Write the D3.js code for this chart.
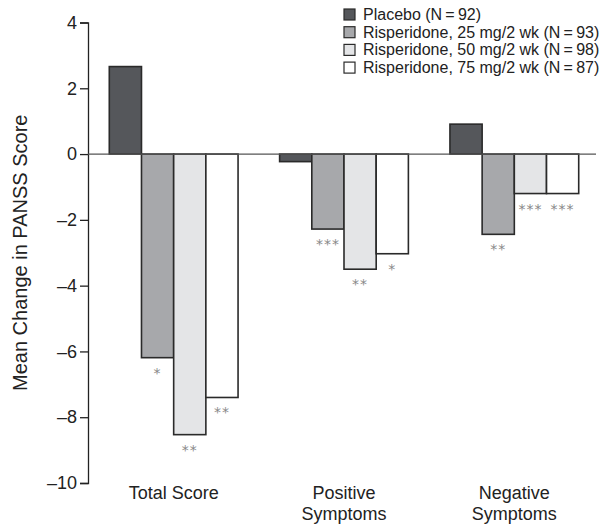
<!DOCTYPE html>
<html>
<head>
<meta charset="utf-8">
<script src="https://cdn.jsdelivr.net/npm/d3@7"></script>
<style>
  body { margin: 0; background: #fff; }
  text { font-family: "Liberation Sans", Arial, sans-serif; fill: #222; }
</style>
</head>
<body>
<script>
// data
const categories = ["Total Score", "Positive\nSymptoms", "Negative\nSymptoms"];
const seriesNames = [
  "Placebo (N\u2009=\u200992)",
  "Risperidone, 25 mg/2 wk (N\u2009=\u200993)",
  "Risperidone, 50 mg/2 wk (N\u2009=\u200998)",
  "Risperidone, 75 mg/2 wk (N\u2009=\u200987)"
];
const placebo = [2.66, -0.23, 0.91];
const risp25 = [-6.19, -2.28, -2.44];
const risp50 = [-8.53, -3.50, -1.20];
const risp75 = [-7.40, -3.03, -1.20];
const stars25 = ["*", "***", "**"];
const stars50 = ["**", "**", "***"];
const stars75 = ["**", "*", "***"];
const yTicks = [4, 2, 0, -2, -4, -6, -8, -10];

const colors = ["#55575b", "#a7a8ab", "#e4e5e7", "#ffffff"];
const values = [placebo, risp25, risp50, risp75];
const stars = [null, stars25, stars50, stars75];

const m = { width: 600, height: 525 };

let svg = d3.select("body")
  .append("svg")
  .attr("width", m.width)
  .attr("height", m.height);

let y = d3.scaleLinear()
  .domain([-10, 4])
  .range([483, 22.5]);

let x = d3.scaleBand()
  .domain(categories)
  .range([88, 600])
  .paddingInner(0.244)
  .paddingOuter(0.125);

let xs = d3.scaleBand()
  .domain(d3.range(4))
  .range([0, x.bandwidth()]);

// y axis
let yAxis = svg.append("g")
  .attr("transform", "translate(88,0)")
  .call(d3.axisLeft(y).tickValues(yTicks).tickSize(8).tickPadding(3)
    .tickFormat(d => d < 0 ? "\u2013" + Math.abs(d) : d));
yAxis.select(".domain").attr("stroke", "#222").attr("stroke-width", 1.3);
yAxis.selectAll(".tick line").attr("stroke", "#222").attr("stroke-width", 1.3);
yAxis.selectAll(".tick text")
  .style("font-family", "Liberation Sans, Arial, sans-serif")
  .style("font-size", "18px")
  .attr("fill", "#222");

svg.append("text")
  .attr("transform", "translate(27," + y(-3) + ") rotate(-90)")
  .attr("text-anchor", "middle")
  .style("font-size", "20px")
  .text("Mean Change in PANSS Score");

// bars
let bars = svg.append("g");
values.forEach((vals, s) => {
  bars.selectAll(".s" + s)
    .data(vals)
    .enter()
    .append("rect")
    .attr("x", (d, i) => x(categories[i]) + xs(s))
    .attr("width", xs.bandwidth())
    .attr("y", d => y(Math.max(0, d)))
    .attr("height", d => Math.abs(y(d) - y(0)))
    .attr("fill", colors[s])
    .attr("stroke", "#2a2a2a")
    .attr("stroke-width", 1.6);
});

// zero line
svg.append("line")
  .attr("x1", 88).attr("x2", 596)
  .attr("y1", y(0)).attr("y2", y(0))
  .attr("stroke", "#555")
  .attr("stroke-width", 1.2);

// significance stars
values.forEach((vals, s) => {
  if (!stars[s]) return;
  svg.append("g").selectAll("text")
    .data(vals)
    .enter()
    .append("text")
    .attr("x", (d, i) => x(categories[i]) + xs(s) + xs.bandwidth() / 2)
    .attr("y", d => y(d) + 20)
    .attr("text-anchor", "middle")
    .style("font-family", "DejaVu Sans, sans-serif")
    .style("font-size", "14px")
    .style("letter-spacing", "1px")
    .style("fill", "#888")
    .text((d, i) => stars[s][i]);
});

// category labels
categories.forEach(c => {
  let t = svg.append("text")
    .attr("text-anchor", "middle")
    .style("font-size", "18px");
  c.split("\n").forEach((line, k) => {
    t.append("tspan")
      .attr("x", x(c) + x.bandwidth() / 2)
      .attr("y", 499 + k * 21)
      .text(line);
  });
});

// legend
let legend = svg.append("g").attr("transform", "translate(344,9)");
seriesNames.forEach((name, s) => {
  let row = legend.append("g").attr("transform", "translate(0," + s * 17.7 + ")");
  row.append("rect")
    .attr("width", 11).attr("height", 11)
    .attr("fill", colors[s])
    .attr("stroke", "#2a2a2a")
    .attr("stroke-width", 1.2);
  row.append("text")
    .attr("x", 19).attr("y", 11)
    .style("font-size", "16px")
    .text(name);
});
</script>
</body>
</html>
